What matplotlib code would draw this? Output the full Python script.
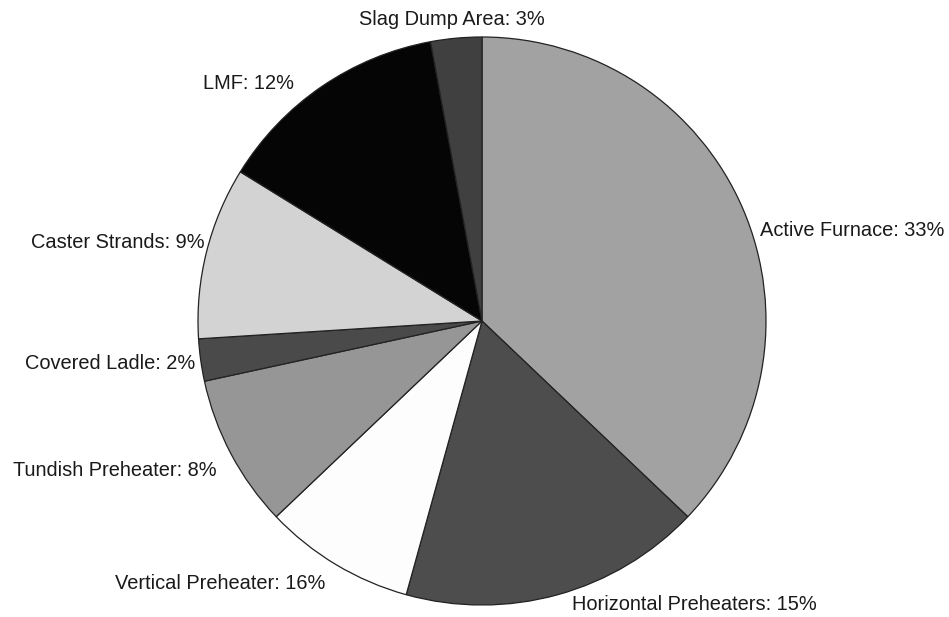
import matplotlib
matplotlib.use('Agg')
import matplotlib.pyplot as plt

# slice shares as drawn (degrees of the pie, in %)
names = ['Active Furnace', 'Horizontal Preheaters', 'Vertical Preheater',
         'Tundish Preheater', 'Covered Ladle', 'Caster Strands', 'LMF',
         'Slag Dump Area']
sizes = [37.1, 17.2, 8.6, 8.7, 2.4, 9.8, 13.3, 2.9]
# percentages printed in the labels
label_pct = [33, 15, 16, 8, 2, 9, 12, 3]
colors = ['#a2a2a2', '#4d4d4d', '#fdfdfd', '#969696', '#4a4a4a',
          '#d3d3d3', '#050505', '#404040']

# label anchor positions (data units, pie radius = 1) and alignment
label_xy = [(0.979, 0.320), (0.317, -1.000), (-0.553, -0.923),
            (-0.933, -0.525), (-1.011, -0.148), (-0.975, 0.275),
            (-0.662, 0.838), (-0.106, 1.060)]
label_ha = ['left', 'left', 'right', 'right', 'right', 'right', 'right', 'center']

fig = plt.figure(figsize=(9.49, 6.17), dpi=100, facecolor='white')
ax = fig.add_axes([0, 0, 1, 1])

wedges, _ = ax.pie(sizes, colors=colors, startangle=90, counterclock=False,
                   radius=1.0, center=(0, 0),
                   wedgeprops=dict(edgecolor='#222222', linewidth=0.9))

for name, pct, (x, y), ha in zip(names, label_pct, label_xy, label_ha):
    ax.text(x, y, '%s: %d%%' % (name, pct), ha=ha, va='center',
            fontsize=14.4, family='Liberation Sans', color='#1a1a1a')

# 284 px per unit, centre at pixel (482, 321)
ax.set_xlim(-482 / 284, (949 - 482) / 284)
ax.set_ylim(-(617 - 321) / 284, 321 / 284)
ax.set_aspect('auto')
ax.axis('off')

fig.savefig('out.png', dpi=100, facecolor='white')
